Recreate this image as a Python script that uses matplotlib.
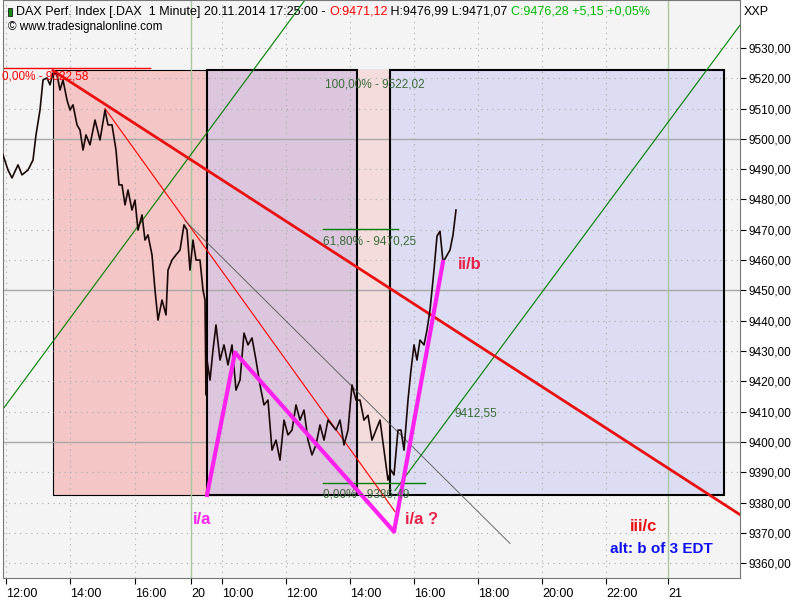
import matplotlib
matplotlib.use("Agg")
import matplotlib.pyplot as plt
from matplotlib.patches import Rectangle

# bar index (~1.9 min per bar) and price
bars = [3,8,12,18,22,28,33,36,40,43,47,50,53,57,60,63,67,70,73,77,80,83,86,90,95,100,105,108,112,116,119,122,125,128,132,135,138,142,145,148,152,155,158,162,166,168,172,176,180,184,187,190,193,196,200,203,205,206,
        207,210,213,216,220,224,228,232,236,240,244,248,252,256,260,264,268,272,276,280,284,288,292,296,300,304,308,312,316,320,324,328,332,336,340,344,348,352,356,360,364,368,372,376,380,384,388,391,394,398,401,404,408,411,414,417,420,424,427,430,434,437,440,443,446,450,453,456]
price = [9494.7,9489.7,9487.1,9491.4,9488.1,9489.7,9493.0,9501.3,9509.5,9519.4,9520.1,9517.8,9521.7,9521.1,9516.1,9519.4,9512.8,9509.5,9511.2,9504.6,9502.9,9496.3,9501.3,9498.0,9506.2,9499.6,9509.5,9504.6,9504.6,9496.3,9484.8,9484.8,9478.2,9483.1,9476.5,9479.8,9469.9,9474.9,9466.6,9468.3,9461.7,9450.1,9440.2,9446.8,9441.9,9456.7,9460.0,9461.7,9463.3,9471.6,9469.9,9456.7,9466.6,9460.0,9460.0,9450.1,9446.8,9415.5,
         9427.0,9420.4,9430.3,9438.6,9427.0,9432.0,9425.4,9432.0,9417.1,9420.4,9435.9,9432.0,9434.3,9427.0,9418.8,9412.2,9413.8,9397.3,9400.6,9394.0,9407.2,9402.3,9403.9,9412.2,9407.2,9410.5,9400.6,9395.7,9399.0,9405.6,9400.6,9407.2,9405.6,9403.9,9407.2,9399.0,9403.9,9418.8,9413.8,9413.8,9407.2,9408.8,9400.6,9403.9,9407.2,9397.3,9387.4,9390.7,9389.1,9403.9,9403.9,9397.3,9413.8,9423.7,9432.0,9427.0,9433.6,9432.0,9436.9,9443.5,9456.7,9467.9,9469.5,9459.4,9461.0,9463.3,9468.3,9476.5]

tick_pos = [6,70,135,191,222,286,350,414,478,542,606,668]
tick_lab = ["12:00","14:00","16:00","20","10:00","12:00","14:00","16:00","18:00","20:00","22:00","21"]
y_ticks = [9360,9370,9380,9390,9400,9410,9420,9430,9440,9450,9460,9470,9480,9490,9500,9510,9520,9530]

plt.rcParams['font.family'] = ['Liberation Sans', 'DejaVu Sans']
fig = plt.figure(figsize=(8,6), dpi=100)
fig.patch.set_facecolor("white")
ax = fig.add_axes([3/800, 22/600, 737/800, 578/600])
ax.set_facecolor("#f4f4f4")
ax.set_xlim(3, 740)
ax.set_ylim(9355.1, 9545.8)

for v in y_ticks:
    if v % 50 == 0:
        ax.axhline(v, color="#a8a8a8", lw=1, zorder=1.5)
    else:
        ax.axhline(v, color="#aaaaaa", lw=0.8, ls=(0,(1,4)), zorder=1.5)
for p, l in zip(tick_pos, tick_lab):
    if l in ("20","21"):
        ax.axvline(p, color="#a8c8a0", lw=1, zorder=1.5)
    else:
        ax.axvline(p, color="#aaaaaa", lw=0.8, ls=(0,(1,4)), zorder=1.5)

top, bot = 9522.58, 9382.5
ax.add_patch(Rectangle((53, bot), 337, top-bot, fc="#f4c6c6", ec="black", lw=0.8, zorder=1))
ax.add_patch(Rectangle((357, bot), 33, top-bot, fc="#f4dcdc", ec="none", zorder=1))
ax.add_patch(Rectangle((207, bot), 150, top-bot, fc="#dcc6de", ec="none", zorder=1))
ax.add_patch(Rectangle((390, bot), 334, top-bot, fc="#dcdcf2", ec="none", zorder=1))
ax.add_patch(Rectangle((207, bot), 150, top-bot, fc="none", ec="black", lw=1.5, zorder=2))
ax.add_patch(Rectangle((390, bot), 334, top-bot, fc="none", ec="black", lw=1.5, zorder=2))

ax.plot([0,150],[9523.5,9523.5], color="red", lw=1, zorder=2)
ax.plot([323,398],[9470.25,9470.25], color="green", lw=1, zorder=2)
ax.plot([323,425],[9386.49,9386.49], color="green", lw=1, zorder=2)
ax.plot([0,305],[9409.5,9545.8], color="green", lw=0.8, zorder=2)
ax.plot([395,740],[9384,9537.5], color="green", lw=0.8, zorder=2)
ax.plot([105,395],[9510,9377], color="red", lw=0.8, zorder=2)
ax.plot([185,510],[9473,9366.5], color="#555555", lw=0.6, zorder=2)
ax.plot([53,740],[9522.5,9376], color="#e81010", lw=2, zorder=3)

ax.plot(bars, price, color="#1a0808", lw=1.2, zorder=4)
ax.plot([207,235,394,443],[9382.5,9429.5,9370.4,9459.4], color="#ff22ee", lw=3, zorder=5)

ax.text(2, 9519.5, "0,00% - 9522,58", color="red", fontsize=8.5, zorder=6)
ax.text(325, 9517, "100,00% - 9522,02", color="#3a6a3a", fontsize=8.5, zorder=6)
ax.text(323, 9465.2, "61,80% - 9470,25", color="#3a6a3a", fontsize=8.5, zorder=6)
ax.text(323, 9381.5, "0,00% - 9386,49", color="#3a6a3a", fontsize=8.5, zorder=6)
ax.text(455, 9408.5, "9412,55", color="#3a6a3a", fontsize=8.5, zorder=6)
ax.text(193, 9373, "i/a", color="#ff22ee", fontsize=12, fontweight="bold", zorder=6)
ax.text(405, 9373, "i/a ?", color="#e8204a", fontsize=12, fontweight="bold", zorder=6)
ax.text(458, 9457, "ii/b", color="#e8204a", fontsize=12, fontweight="bold", zorder=6)
ax.text(630, 9370.5, "iii/c", color="#e81010", fontsize=12, fontweight="bold", zorder=6)
ax.text(610, 9363.5, "alt: b of 3 EDT", color="#1010ee", fontsize=11, fontweight="bold", zorder=6)

# header as a chain of texts
parts = [("DAX Perf. Index [.DAX  1 Minute] 20.11.2014 17:25:00 - ", "black"),
         ("O:9471,12", "red"), (" H:9476,99 L:9471,07 ", "black"),
         ("C:9476,28 +5,15 +0,05%", "#00bb00")]
fig.canvas.draw()
r = fig.canvas.get_renderer()
xpx = 16
for s, c in parts:
    t = fig.text(xpx/800, 1-12/600, s, color=c, fontsize=9, va="center")
    xpx += t.get_window_extent(r).width
fig.patches.append(Rectangle((8/800, 1-16/600), 4/800, 8/600, transform=fig.transFigure, fc="#1a8a1a", ec="black", lw=0.5))
fig.text(8/800, 1-27/600, "© www.tradesignalonline.com", fontsize=8.5, va="center")

ax.set_xticks(tick_pos)
ax.set_xticklabels(tick_lab, fontsize=9, ha="left")
ax.tick_params(axis="x", length=4, pad=3)
ax.yaxis.tick_right()
ax.set_yticks(y_ticks)
ax.set_yticklabels([f"{v},00" for v in y_ticks], fontsize=8.5)
ax.tick_params(axis="y", length=4, pad=2)
for s in ax.spines.values():
    s.set_color("#777777")
fig.text(744/800, 1-12/600, "XXP", fontsize=9, va="center")
fig.savefig("out.png", dpi=100)
